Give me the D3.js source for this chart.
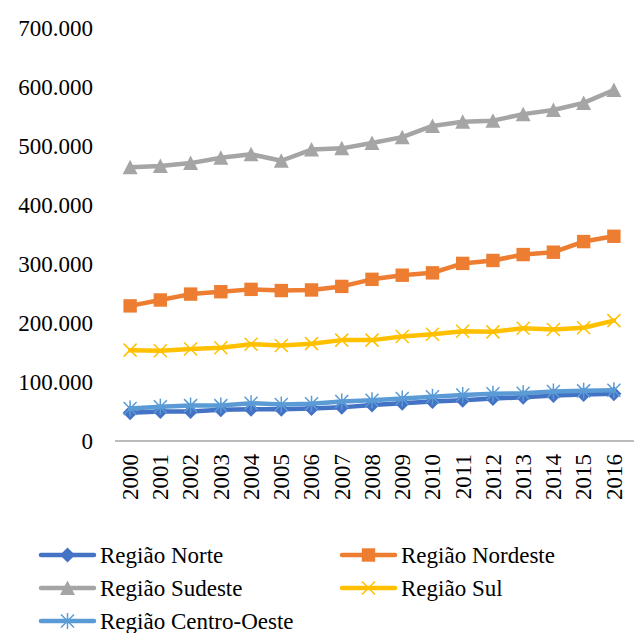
<!DOCTYPE html>
<html>
<head>
<meta charset="utf-8">
<script src="https://cdn.jsdelivr.net/npm/d3@7"></script>
<style>
    body { margin: 0; background: #fff; }
    svg { display: block; }
</style>
</head>
<body>
<svg id="chart"></svg>
<script>
const years = ['2000', '2001', '2002', '2003', '2004', '2005', '2006', '2007', '2008',
    '2009', '2010', '2011', '2012', '2013', '2014', '2015', '2016'];

const norte = [48000, 50000, 50000, 53000, 54000, 54000, 55000, 57000, 61000,
    64000, 67000, 69000, 72000, 74000, 77000, 79000, 80000];
const nordeste = [229000, 239000, 249000, 253000, 257000, 255000, 256000, 262000, 274000,
    281000, 285000, 301000, 306000, 316000, 320000, 338000, 347000];
const sudeste = [464000, 466000, 471000, 480000, 486000, 475000, 494000, 496000, 505000,
    515000, 534000, 541000, 543000, 554000, 561000, 573000, 595000];
const sul = [154000, 153000, 156000, 158000, 164000, 162000, 165000, 171000, 171000,
    177000, 181000, 186000, 185000, 191000, 189000, 192000, 204000];
const centroOeste = [55000, 58000, 60000, 60000, 64000, 62000, 63000, 67000, 69000,
    72000, 75000, 78000, 80000, 81000, 84000, 85000, 86000];

const yTicks = [0, 100000, 200000, 300000, 400000, 500000, 600000, 700000];

const series = [
    {name: 'Região Norte', values: norte, color: '#4472c4', marker: 'diamond'},
    {name: 'Região Nordeste', values: nordeste, color: '#ed7d31', marker: 'square'},
    {name: 'Região Sudeste', values: sudeste, color: '#a5a5a5', marker: 'triangle'},
    {name: 'Região Sul', values: sul, color: '#ffc000', marker: 'cross'},
    {name: 'Região Centro-Oeste', values: centroOeste, color: '#5b9bd5', marker: 'star'}
];

const width = 634, height = 633;
const fontSize = '23px';
const fontFamily = "'Liberation Serif'";

const ptBR = d3.formatLocale({decimal: ',', thousands: '.', grouping: [3], currency: ['R$', '']});
const fmt = ptBR.format(',d');

const svg = d3.select('#chart')
    .attr('width', width)
    .attr('height', height);

const x = d3.scalePoint()
    .domain(years)
    .range([115, 629])
    .padding(0.5);

const y = d3.scaleLinear()
    .domain([0, 700000])
    .range([441, 28]);

// y axis labels, drawn as plain text
svg.append('g')
    .selectAll('text')
    .data(yTicks)
    .join('text')
    .attr('x', 93)
    .attr('y', d => y(d))
    .attr('dy', '0.34em')
    .attr('text-anchor', 'end')
    .style('font-family', fontFamily)
    .style('font-size', fontSize)
    .attr('fill', '#000')
    .text(fmt);

// x axis line
const xAxis = svg.append('g')
    .attr('transform', 'translate(0,441)')
    .call(d3.axisBottom(x).tickSize(0).tickSizeOuter(0).tickFormat(''));
xAxis.select('.domain')
    .attr('stroke', '#a6a6a6')
    .attr('stroke-width', 1.5)
    .attr('d', 'M115,0H634');

svg.append('g')
    .selectAll('text')
    .data(years)
    .join('text')
    .attr('transform', d => 'translate(' + x(d) + ',454) rotate(-90)')
    .attr('dy', '0.34em')
    .attr('text-anchor', 'end')
    .style('font-family', fontFamily)
    .style('font-size', fontSize)
    .attr('fill', '#000')
    .text(d => d);

function drawMarker(g, type, color) {
    if (type === 'diamond') {
        g.append('path').attr('d', 'M0,-7.5L7.5,0L0,7.5L-7.5,0Z').attr('fill', color);
    } else if (type === 'square') {
        g.append('rect').attr('x', -6.7).attr('y', -6.7).attr('width', 13.4).attr('height', 13.4)
            .attr('fill', color);
    } else if (type === 'triangle') {
        g.append('path').attr('d', 'M0,-7.5L7.5,7L-7.5,7Z').attr('fill', color);
    } else if (type === 'cross') {
        g.append('path').attr('d', 'M-6.5,-6.5L6.5,6.5M-6.5,6.5L6.5,-6.5')
            .attr('stroke', color).attr('stroke-width', 1.5).attr('fill', 'none');
    } else if (type === 'star') {
        g.append('path').attr('d', 'M-6.5,-6.5L6.5,6.5M-6.5,6.5L6.5,-6.5M0,-8V8')
            .attr('stroke', color).attr('stroke-width', 1.5).attr('fill', 'none');
    }
}

const line = d3.line()
    .x((d, i) => x(years[i]))
    .y(d => y(d));

series.forEach(s => {
    svg.append('path')
        .datum(s.values)
        .attr('fill', 'none')
        .attr('stroke', s.color)
        .attr('stroke-width', 4.5)
        .attr('stroke-linejoin', 'round')
        .attr('stroke-linecap', 'round')
        .attr('d', line);

    s.values.forEach((v, i) => {
        const g = svg.append('g')
            .attr('transform', 'translate(' + x(years[i]) + ',' + y(v) + ')');
        drawMarker(g, s.marker, s.color);
    });
});

// legend
const legendPos = [
    {x: 41, y: 555}, {x: 342, y: 555},
    {x: 41, y: 588}, {x: 342, y: 588},
    {x: 41, y: 621}
];

series.forEach((s, i) => {
    const p = legendPos[i];
    const g = svg.append('g').attr('transform', 'translate(' + p.x + ',' + p.y + ')');
    g.append('line')
        .attr('x1', 0).attr('x2', 53)
        .attr('stroke', s.color)
        .attr('stroke-width', 4.5)
        .attr('stroke-linecap', 'round');
    drawMarker(g.append('g').attr('transform', 'translate(26.5,0)'), s.marker, s.color);
    g.append('text')
        .attr('x', 59)
        .attr('dy', '0.34em')
        .style('font-family', fontFamily)
        .style('font-size', fontSize)
        .attr('fill', '#000')
        .text(s.name);
});
</script>
</body>
</html>
